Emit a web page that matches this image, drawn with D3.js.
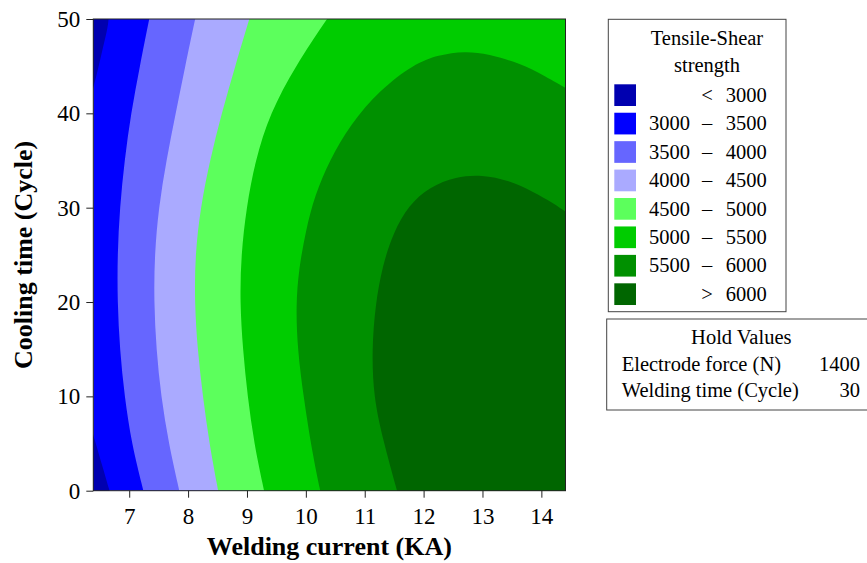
<!DOCTYPE html>
<meta charset="utf-8">
<script src="https://d3js.org/d3.v7.min.js"></script>
<style>
  body { margin: 0; background: #fff; }
  text { font-family: "Liberation Serif", "Times New Roman", serif; fill: #000; }
</style>
<body>
<div id="chart"></div>
<script>
// contour boundaries: [welding current (KA), cooling time (Cycle)]
var edge3000Top = [[6.65, 50.3], [6.645, 49.3], [6.55, 46.9], [6.46, 44.4], [6.36, 42.0]];
var edge3000Bottom = [[6.36, 6.5], [6.40, 5.7], [6.53, 2.9], [6.68, -0.3]];
var edge3500 = [[7.34, 50], [7.18, 45], [7.03, 40], [6.92, 35], [6.84, 30], [6.80, 25], [6.80, 20], [6.84, 15], [6.92, 10], [7.04, 5], [7.24, 0]];
var edge4000 = [[8.12, 50], [7.95, 45], [7.79, 40], [7.63, 35], [7.50, 30], [7.43, 25], [7.42, 20], [7.46, 15], [7.54, 10], [7.67, 5], [7.85, 0]];
var edge4500 = [[9.04, 50], [8.80, 45], [8.57, 40], [8.37, 35], [8.21, 30], [8.12, 25], [8.11, 20], [8.16, 15], [8.25, 10], [8.36, 5], [8.51, 0]];
var edge5000 = [[10.36, 50], [9.82, 45], [9.39, 40], [9.14, 35], [8.99, 30], [8.90, 25], [8.88, 20], [8.93, 15], [9.01, 10], [9.12, 5], [9.29, 0]];
var edge5500 = [[14.52, 42.3], [14.05, 44.0], [13.64, 45.3], [13.1, 46.3], [12.70, 46.6], [12.25, 46.2], [11.83, 45.2], [11.26, 42.5],
                [10.75, 38.8], [10.41, 35.1], [10.15, 31.3], [10.0, 27.6], [9.88, 23.5], [9.83, 19.6], [9.86, 14.9], [9.96, 10.0],
                [10.10, 4.3], [10.26, -0.5]];
var edge6000 = [[14.52, 29.1], [14.2, 30.5], [13.86, 31.7], [13.45, 32.9], [12.99, 33.5], [12.55, 33.3], [12.1, 32.2], [11.75, 30.3],
                [11.48, 27.3], [11.30, 23.8], [11.18, 19.7], [11.12, 14.9], [11.15, 10.0], [11.30, 5.6], [11.57, -0.5]];

var bandColors = ["#0000b0", "#0000ff", "#6666ff", "#aaaaff", "#5cff5c", "#00cc00", "#009000", "#006600"];
var legendSign = ["<", "\u2013", "\u2013", "\u2013", "\u2013", "\u2013", "\u2013", ">"];
var legendLow  = ["", "3000", "3500", "4000", "4500", "5000", "5500", ""];
var legendHigh = ["3000", "3500", "4000", "4500", "5000", "5500", "6000", "6000"];
var xTicks = [7, 8, 9, 10, 11, 12, 13, 14];
var yTicks = [0, 10, 20, 30, 40, 50];
var holdNames = ["Electrode force (N)", "Welding time (Cycle)"];
var holdValues = [1400, 30];

var margin = {top: 19, left: 93.3},
    width = 472.2,
    height = 471.7;

var svg = d3.select("#chart").append("svg")
    .attr("width", 867)
    .attr("height", 563);

var g = svg.append("g")
    .attr("transform", "translate(" + margin.left + "," + margin.top + ")");

var x = d3.scaleLinear().domain([6.39, 14.41]).range([0, width]);
var y = d3.scaleLinear().domain([0, 50]).range([height, 0]);

g.append("clipPath").attr("id", "plotclip")
  .append("rect").attr("width", width).attr("height", height);

var plot = g.append("g").attr("clip-path", "url(#plotclip)");

var line = d3.line()
    .x(function(d) { return x(d[0]); })
    .y(function(d) { return y(d[1]); })
    .curve(d3.curveBasis);

// closes a boundary curve with straight runs through the given corner points
function region(curve, corners) {
  var p = line(curve);
  corners.forEach(function(c) { p += "L" + x(c[0]) + "," + y(c[1]); });
  return p + "Z";
}

plot.append("rect")
    .attr("width", width).attr("height", height)
    .attr("fill", bandColors[1]);

plot.append("path").attr("d", region(edge3000Top, [[6.3, 50.5]])).attr("fill", bandColors[0]);
plot.append("path").attr("d", region(edge3000Bottom, [[6.3, -0.5]])).attr("fill", bandColors[0]);

[edge3500, edge4000, edge4500, edge5000].forEach(function(e, i) {
  plot.append("path")
      .attr("d", region(e, [[14.6, -0.5], [14.6, 50.5]]))
      .attr("fill", bandColors[i + 2]);
});

[edge5500, edge6000].forEach(function(e, i) {
  plot.append("path")
      .attr("d", region(e, [[14.6, -0.5]]))
      .attr("fill", bandColors[i + 6]);
});

g.append("rect")
    .attr("width", width).attr("height", height)
    .attr("fill", "none")
    .attr("stroke", "#222")
    .attr("stroke-width", 1);

// axes
var xAxis = g.append("g")
    .attr("transform", "translate(0," + height + ")")
    .call(d3.axisBottom(x).tickValues(xTicks).tickSize(7).tickSizeOuter(0).tickPadding(10));
var yAxis = g.append("g")
    .call(d3.axisLeft(y).tickValues(yTicks).tickSize(7).tickSizeOuter(0).tickPadding(6));

[xAxis, yAxis].forEach(function(a) {
  a.attr("font-family", "Liberation Serif").attr("font-size", 23);
  a.select(".domain").remove();
  a.selectAll(".tick line").attr("stroke", "#222");
  a.selectAll(".tick text").attr("fill", "#111");
});

svg.append("text")
    .attr("x", margin.left + width / 2)
    .attr("y", 555)
    .attr("text-anchor", "middle")
    .attr("font-size", 26)
    .attr("font-weight", "bold")
    .text("Welding current (KA)");

svg.append("text")
    .attr("transform", "translate(32," + (margin.top + height / 2) + ") rotate(-90)")
    .attr("text-anchor", "middle")
    .attr("font-size", 26)
    .attr("font-weight", "bold")
    .text("Cooling time (Cycle)");

// legend
var fs = 20.5;
var leg = svg.append("g");
leg.append("rect")
    .attr("x", 608.3).attr("y", 19.3)
    .attr("width", 177.7).attr("height", 292.4)
    .attr("fill", "#fff").attr("stroke", "#444");

leg.append("text").attr("x", 707).attr("y", 44.5)
    .attr("text-anchor", "middle").attr("font-size", fs).text("Tensile-Shear");
leg.append("text").attr("x", 707).attr("y", 72)
    .attr("text-anchor", "middle").attr("font-size", fs).text("strength");

bandColors.forEach(function(c, i) {
  var ry = 84.3 + i * 28.43;
  leg.append("rect")
      .attr("x", 614.3).attr("y", ry)
      .attr("width", 21.7).attr("height", 21.7)
      .attr("fill", c);
  leg.append("text").attr("x", 690).attr("y", ry + 17.5)
      .attr("text-anchor", "end").attr("font-size", fs).text(legendLow[i]);
  leg.append("text").attr("x", 707).attr("y", ry + 17.5)
      .attr("text-anchor", "middle").attr("font-size", fs).text(legendSign[i]);
  leg.append("text").attr("x", 766.7).attr("y", ry + 17.5)
      .attr("text-anchor", "end").attr("font-size", fs).text(legendHigh[i]);
});

// hold values box
var hold = svg.append("g");
hold.append("rect")
    .attr("x", 606.7).attr("y", 319)
    .attr("width", 270).attr("height", 91)
    .attr("fill", "#fff").attr("stroke", "#444");
hold.append("text").attr("x", 741.3).attr("y", 343.5)
    .attr("text-anchor", "middle").attr("font-size", fs).text("Hold Values");
holdNames.forEach(function(n, i) {
  hold.append("text").attr("x", 621.7).attr("y", 370.7 + i * 26)
      .attr("font-size", fs).text(n);
  hold.append("text").attr("x", 860).attr("y", 370.7 + i * 26)
      .attr("text-anchor", "end").attr("font-size", fs).text(holdValues[i]);
});
</script>
</body>
